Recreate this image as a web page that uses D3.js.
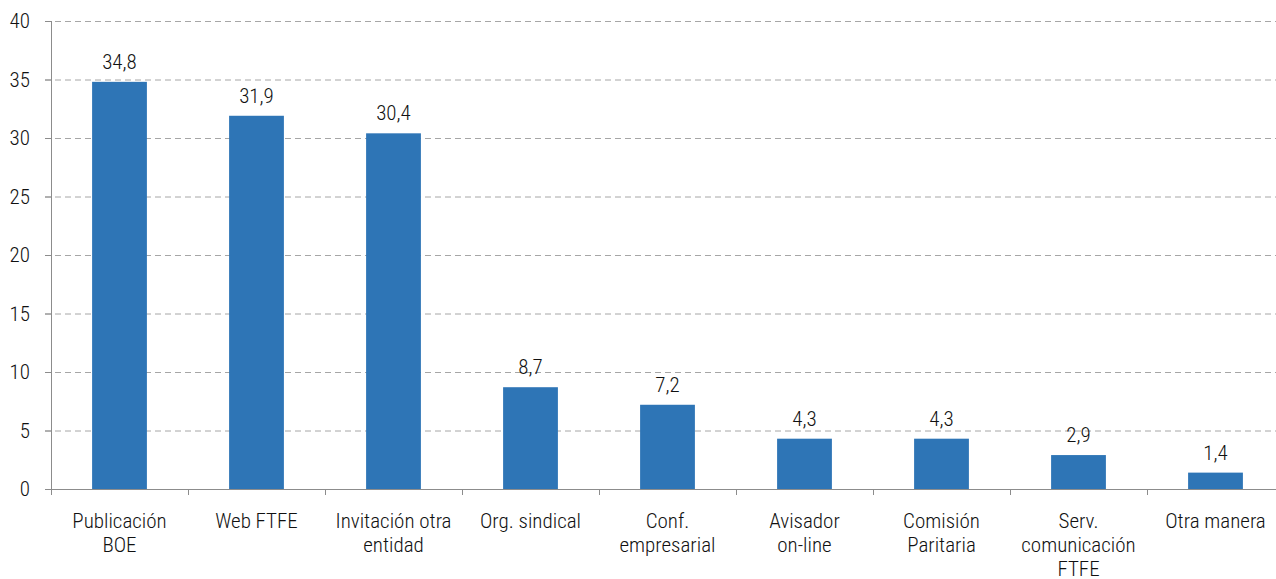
<!DOCTYPE html>
<html><head><meta charset="utf-8">
<script src="https://cdn.jsdelivr.net/npm/d3@7"></script>
<style>
html,body{margin:0;padding:0;background:#fff;}
text{font-family:"Liberation Sans Narrow","Arial Narrow","Roboto Condensed",sans-serif;fill:#111;font-weight:350;}
</style></head>
<body>
<svg id="c" width="1276" height="579"></svg>
<script>
const categories = [["Publicación","BOE"],["Web FTFE"],["Invitación otra","entidad"],["Org. sindical"],["Conf.","empresarial"],["Avisador","on-line"],["Comisión","Paritaria"],["Serv.","comunicación","FTFE"],["Otra manera"]];
const values = [34.8, 31.9, 30.4, 8.7, 7.2, 4.3, 4.3, 2.9, 1.4];
const yTicks = [0,5,10,15,20,25,30,35,40];

const svg = d3.select("#c");
const x0 = 51, x1 = 1284, yBottom = 489, yTop = 21;
const x = d3.scaleBand().domain(d3.range(values.length)).range([x0, x1]).paddingInner(0).paddingOuter(0);
const y = d3.scaleLinear().domain([0, 40]).range([yBottom, yTop]);
const step = x.step();
const bw = step * 0.4;

// gridlines
svg.append("g").selectAll("line").data(yTicks.filter(d => d > 0)).join("line")
  .attr("x1", 45).attr("x2", 1276)
  .attr("y1", d => y(d) + 0.5).attr("y2", d => y(d) + 0.5)
  .attr("stroke", "#a6a6a6").attr("stroke-width", 1).attr("stroke-dasharray", "6,4");

// bars
svg.append("g").selectAll("rect").data(values).join("rect")
  .attr("x", (d, i) => x(i) + (step - bw) / 2)
  .attr("y", d => y(d))
  .attr("width", bw)
  .attr("height", d => yBottom - y(d))
  .attr("fill", "#2e75b6");

// y axis
svg.append("line").attr("x1", x0 + 0.5).attr("x2", x0 + 0.5).attr("y1", yTop).attr("y2", yBottom)
  .attr("stroke", "#8c8c8c");
svg.append("g").selectAll("line").data(yTicks).join("line")
  .attr("x1", 45).attr("x2", x0).attr("y1", d => y(d) + 0.5).attr("y2", d => y(d) + 0.5)
  .attr("stroke", "#8c8c8c");
svg.append("g").selectAll("text").data(yTicks).join("text")
  .attr("x", 30).attr("y", d => y(d)).attr("dy", "0.35em")
  .attr("text-anchor", "end").attr("font-size", 21)
  .text(d => d);

// x axis
svg.append("line").attr("x1", 45).attr("x2", 1276).attr("y1", yBottom + 0.5).attr("y2", yBottom + 0.5)
  .attr("stroke", "#8c8c8c");
svg.append("g").selectAll("line").data(d3.range(values.length + 1)).join("line")
  .attr("x1", i => x0 + i * step + 0.5).attr("x2", i => x0 + i * step + 0.5)
  .attr("y1", yBottom).attr("y2", yBottom + 6)
  .attr("stroke", "#8c8c8c");

// category labels
const cl = svg.append("g").selectAll("text").data(categories).join("text")
  .attr("text-anchor", "middle").attr("font-size", 21)
  .attr("x", (d, i) => x(i) + step / 2).attr("y", 528);
cl.selectAll("tspan").data(d => d).join("tspan")
  .attr("x", function () { return d3.select(this.parentNode).attr("x"); })
  .attr("dy", (d, i) => i === 0 ? 0 : 24)
  .text(d => d);

// value labels
svg.append("g").selectAll("text").data(values).join("text")
  .attr("text-anchor", "middle").attr("font-size", 21)
  .attr("x", (d, i) => x(i) + step / 2).attr("y", d => y(d) - 13)
  .text(d => d3.format(".1f")(d).replace(".", ","));
</script>
</body></html>
